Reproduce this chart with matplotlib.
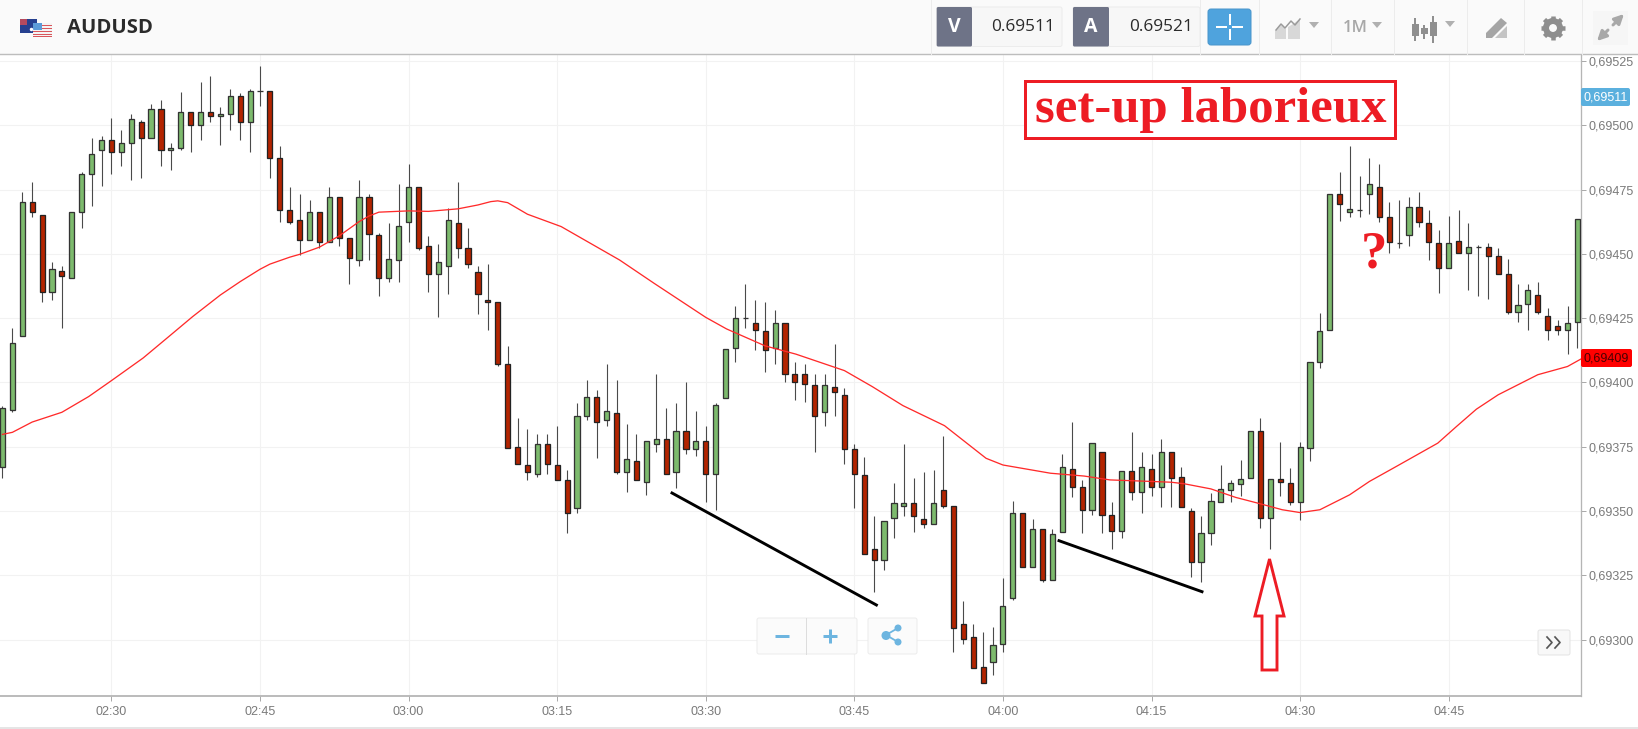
import numpy as np
import matplotlib
matplotlib.use('Agg')
import matplotlib.pyplot as plt
from matplotlib.patches import Rectangle, FancyBboxPatch, Circle, Polygon

# one minute candles, AUDUSD, 02:19 to 04:58, prices in 1e-5
opens = [69367.3, 69389.3, 69418, 69470.3, 69465, 69435.2, 69443.2, 69440.5, 69466.3, 69481.2,
         69490.4, 69494.3, 69489.4, 69493.2, 69501.3, 69495, 69506.2, 69490.3, 69491.2, 69505.2,
         69500.2, 69505.3, 69503.5, 69504.3, 69511.4, 69501.3, 69513.2, 69513.2, 69487.4, 69467,
         69463.2, 69455.4, 69466.3, 69454.5, 69472, 69456.2, 69447.5, 69472, 69457.2, 69440.5,
         69447.5, 69462.4, 69475.9, 69453.2, 69442.2, 69445.3, 69461.9, 69452.3, 69443.1, 69432.2,
         69431.3, 69407.3, 69375, 69367.9, 69364.3, 69376.2, 69367.9, 69362, 69351.2, 69387.1,
         69394.2, 69385.3, 69388, 69365.2, 69369.3, 69361.2, 69376.1, 69378, 69365.2, 69381,
         69374.2, 69377.1, 69364.4, 69394.1, 69413.4, 69425.2, 69423, 69419.9, 69413.4, 69423,
         69403.3, 69403.3, 69398.9, 69388.4, 69398.1, 69395, 69374, 69363.9, 69335.1, 69331.1,
         69347.3, 69352.1, 69353, 69346.9, 69345.1, 69358.2, 69352.1, 69306.2, 69300.9, 69289.2,
         69291.3, 69298.3, 69316.1, 69349.1, 69328.1, 69342.9, 69323.2, 69342, 69366.3, 69359.3,
         69350.5, 69373.1, 69348.3, 69342.1, 69365.4, 69357.5, 69366.3, 69359.2, 69373.1, 69363.2,
         69350.1, 69330.2, 69341.3, 69353.4, 69358.2, 69360.4, 69363, 69381.1, 69347.4, 69362.3,
         69361, 69353.4, 69374.4, 69408.1, 69420.5, 69473.3, 69466.3, 69467.2, 69473.3, 69476,
         69464.3, 69454.1, 69457.5, 69468.1, 69461.9, 69454.1, 69444.4, 69454.9, 69450.5, 69452.6,
         69452.5, 69449.2, 69442.2, 69427.3, 69430.4, 69433.9, 69426, 69422.1, 69420.5, 69423.5]
closes = [69390.2, 69415.2, 69470.3, 69466.3, 69435.2, 69444, 69441.4, 69466.3, 69481.2, 69489,
          69494.3, 69489.4, 69492.9, 69502.3, 69495, 69506.2, 69490.3, 69491.3, 69505.3, 69500.2,
          69505.3, 69503.4, 69504.5, 69511.4, 69501.3, 69513.2, 69513.2, 69487.4, 69467, 69462.3,
          69455.4, 69466.3, 69454.5, 69472, 69456.2, 69448.4, 69472, 69457.6, 69440.5, 69448,
          69461, 69475.9, 69452.2, 69442.2, 69447, 69463.2, 69452.3, 69446.2, 69434.4, 69431.4,
          69407.3, 69374.4, 69368.3, 69365.2, 69376.2, 69368.3, 69362, 69349.1, 69387.1, 69394.2,
          69384.5, 69389, 69365.2, 69370.1, 69362, 69377.1, 69378, 69364.4, 69381, 69374.2,
          69377.1, 69364.4, 69391.1, 69413, 69425.2, 69425.2, 69420.3, 69412.5, 69423, 69403.3,
          69400.2, 69399.3, 69387.1, 69398.9, 69396.3, 69374.2, 69364.4, 69333.3, 69331.1, 69346,
          69353, 69353, 69348.2, 69345.1, 69353, 69352.1, 69304.4, 69300.1, 69289.1, 69283,
          69297.9, 69313.2, 69349.1, 69328.1, 69342.9, 69323.2, 69341.2, 69367, 69359.2, 69350.5,
          69376.4, 69348.3, 69342.1, 69365.4, 69357.5, 69367, 69359.2, 69373.1, 69363, 69351.4,
          69330.2, 69341.4, 69354, 69358.4, 69361, 69362.3, 69381.1, 69347.4, 69362.3, 69361.4,
          69353.4, 69375, 69408.1, 69419.9, 69473.3, 69469.3, 69467.4, 69467.2, 69477.3, 69464.5,
          69454.5, 69454.1, 69468.1, 69462.4, 69454.5, 69444.4, 69454.1, 69450.5, 69452.5, 69452.6,
          69449.2, 69442.2, 69427.3, 69430, 69436.1, 69427.3, 69420.5, 69420.5, 69423, 69463.4]
highs = [69391, 69421, 69474, 69478, 69465, 69447, 69445.3, 69466.3, 69481.7, 69495,
         69495.8, 69503, 69498.2, 69504.3, 69502, 69508.3, 69510, 69492.9, 69513, 69505.2,
         69517, 69519.2, 69507, 69514, 69512.7, 69514, 69523, 69513.2, 69492, 69475.9,
         69473.2, 69471, 69466.3, 69475.9, 69472, 69456.2, 69478.7, 69473.2, 69458, 69461.9,
         69477.2, 69485, 69475.9, 69456.8, 69453.7, 69467.7, 69478, 69460, 69445.3, 69446,
         69431.3, 69414.2, 69386, 69381.8, 69380, 69380, 69383, 69366, 69391.9, 69400.9,
         69397.1, 69407.2, 69400.9, 69384, 69380, 69377.1, 69403.1, 69390.1, 69391.9, 69400.2,
         69388.8, 69383.1, 69391.9, 69413, 69429.8, 69438.3, 69432, 69431.1, 69428.2, 69423,
         69407.9, 69407.2, 69403.3, 69403.3, 69415, 69397.8, 69376.1, 69370.9, 69348.1, 69346,
         69360.8, 69376.1, 69363, 69365.2, 69366, 69379.2, 69352.1, 69314.9, 69306.1, 69303,
         69304.8, 69324, 69353.8, 69349.1, 69346.8, 69342.9, 69342.9, 69372.2, 69384.8, 69362.1,
         69376.4, 69373.1, 69353.7, 69365.4, 69380.9, 69373, 69372.2, 69377.9, 69373.1, 69367,
         69351.1, 69348.1, 69357, 69367.8, 69361.9, 69369.9, 69381.1, 69386.1, 69362.3, 69376.9,
         69366.9, 69376.9, 69408.1, 69426.9, 69473.3, 69482, 69492, 69480.3, 69487.2, 69485,
         69470.3, 69471, 69472, 69474.2, 69467.1, 69459.3, 69464.9, 69467.1, 69461.9, 69453.4,
         69454.1, 69452.2, 69447.9, 69438.3, 69438.3, 69439.1, 69428.9, 69424.2, 69429.9, 69463.4]
lows = [69363, 69388.5, 69418, 69464.5, 69431.4, 69432.2, 69421.2, 69440.5, 69460.2, 69468.5,
        69476.4, 69481.2, 69484.3, 69478.6, 69479.5, 69495, 69484.3, 69482.5, 69490.5, 69489.5,
        69494.3, 69501.4, 69492.5, 69498.2, 69494.3, 69489.5, 69507.4, 69479.5, 69462.4, 69461.5,
        69449.6, 69455.4, 69452.2, 69454.5, 69453.2, 69438.4, 69445.4, 69447.5, 69433.6, 69439.2,
        69439.2, 69454.5, 69451.5, 69435.3, 69425.3, 69434.4, 69448.5, 69444.4, 69426.5, 69420.4,
        69406.5, 69374.4, 69368.3, 69362.1, 69363.1, 69364.4, 69362, 69341.3, 69349.1, 69385.4,
        69370.5, 69383.2, 69364.4, 69357.5, 69362, 69356.1, 69373.1, 69364.4, 69359.1, 69372.3,
        69371.4, 69353.5, 69350.4, 69394.1, 69408.1, 69421, 69412.5, 69404.2, 69407.2, 69400.2,
        69393.2, 69392.4, 69373.1, 69383.2, 69387.1, 69368.3, 69351.2, 69333.3, 69318.5, 69327.2,
        69339.4, 69348.2, 69342, 69343.4, 69345.1, 69351.3, 69295.3, 69298.3, 69289.1, 69283,
        69286.1, 69295.3, 69315.4, 69328.1, 69328.1, 69322.4, 69323.2, 69342, 69355.4, 69341.4,
        69348.3, 69341.4, 69335.2, 69339.6, 69354.4, 69349.2, 69356, 69351.4, 69351.4, 69351.4,
        69324.2, 69322.5, 69336.6, 69353.4, 69353.4, 69356, 69363, 69343.5, 69335.2, 69356,
        69352.2, 69346.6, 69369.3, 69405.5, 69420.5, 69462.6, 69464.5, 69464.5, 69465.4, 69462.4,
        69450.5, 69452.2, 69453.2, 69460.4, 69447.7, 69434.6, 69444.4, 69450.5, 69436.1, 69433.5,
        69432.4, 69442.2, 69426.5, 69423.6, 69420.5, 69426.5, 69416.6, 69418.3, 69411.2, 69413.5]

# moving average read at some minutes (minutes since 02:19)
ma_minutes = [0, 1, 3, 6, 8.7, 11, 14.2, 17, 19.2, 22, 24, 26, 27, 29, 30, 32, 34, 36, 37, 38, 41, 43, 46, 48,
              49.3, 50, 51, 53, 56.4, 62.3, 65.8, 71, 73.1, 77, 80.1, 85, 87.8, 90.9, 95.1, 99.3, 101, 105.8,
              109.2, 111.8, 116, 118, 119.3, 122, 124.5, 126.8, 129.2, 131, 133, 136, 138, 140.7, 144.9,
              146.8, 148.8, 151, 155, 158, 159.4]
ma_values = [69379.8, 69380.6, 69384.6, 69388.4, 69394.5, 69400.7, 69409.5, 69418.5, 69425.6, 69434, 69439.2,
             69444, 69446, 69448.7, 69449.8, 69452.6, 69457, 69462.5, 69464.7, 69466.2, 69466.7, 69466.5,
             69467.5, 69469, 69470.3, 69470.6, 69469.9, 69465.4, 69460.6, 69447.6, 69438.5, 69425.3, 69420.8,
             69414.2, 69411, 69404.6, 69398.4, 69391, 69383.2, 69370.5, 69367.9, 69364.7, 69363.6, 69362.1,
             69361.5, 69361.2, 69360.6, 69358.6, 69355.3, 69353, 69350.5, 69349.4, 69350.5, 69356.3, 69361.5,
             69367.3, 69376.4, 69382.9, 69389.6, 69395.2, 69403, 69406.2, 69409.2]

time_minutes = [11, 26, 41, 56, 71, 86, 101, 116, 131, 146]
time_labels = ['02:30', '02:45', '03:00', '03:15', '03:30', '03:45', '04:00', '04:15', '04:30', '04:45']
price_ticks = [69300, 69325, 69350, 69375, 69400, 69425, 69450, 69475, 69500, 69525]
symbol = 'AUDUSD'
bid_price = '0.69511'
ask_price = '0.69521'
last_price = 69511
ma_last = 69409

W, H = 1638, 729
GREEN = '#7dba6d'
RED = '#b32400'
UI_BLUE = '#6db5e0'
MARK_RED = '#ed1c24'
px = 0.72  # one pixel in points at dpi 100

opens, closes = np.array(opens), np.array(closes)
highs, lows = np.array(highs), np.array(lows)
t = np.arange(len(opens))

fig = plt.figure(figsize=(W/100, H/100), dpi=100, facecolor='white')
ax = fig.add_axes([0, 1-695.7/H, 1581/W, (695.7-54.5)/H])
ax.set_xlim(-0.25, 159.36)
ax.set_ylim(69278.2, 69527.5)

ax.set_axisbelow(True)
ax.grid(True, color='#f2f2f2', lw=1.1*px)
for s in ['top', 'left']:
    ax.spines[s].set_visible(False)
ax.spines['right'].set_color('#b5b5b5')
ax.spines['bottom'].set_color('#b5b5b5')
ax.spines['right'].set_linewidth(1.3*px)
ax.spines['bottom'].set_linewidth(1.8*px)

ax.set_xticks(time_minutes)
ax.set_xticklabels(time_labels)
ax.yaxis.tick_right()
ax.set_yticks(price_ticks)
ax.set_yticklabels(['0,%d' % p for p in price_ticks])
ax.tick_params(axis='x', length=5*px, width=1*px, color='#aaaaaa', labelcolor='#7a7a7a', labelsize=9, pad=3.5)
ax.tick_params(axis='y', length=5*px, width=1*px, color='#aaaaaa', labelcolor='#7a7a7a', labelsize=9, pad=1.5)
for lab in ax.get_xticklabels() + ax.get_yticklabels():
    lab.set_family('Liberation Sans')

# candles
ax.vlines(t, lows, highs, color='#4a4a4a', lw=1.1*px, zorder=2)
up = closes >= opens
ax.bar(t[up], (closes-opens)[up], bottom=opens[up], width=0.52, color=GREEN,
       edgecolor='#333333', linewidth=1.3*px, zorder=3)
ax.bar(t[~up], (opens-closes)[~up], bottom=closes[~up], width=0.52, color=RED,
       edgecolor='#222222', linewidth=1.3*px, zorder=3)
ax.plot(ma_minutes, ma_values, color='#ff2a2a', lw=1.3*px, zorder=4)

# everything else is placed in pixels
ov = fig.add_axes([0, 0, 1, 1], zorder=5)
ov.set_xlim(0, W)
ov.set_ylim(H, 0)
ov.axis('off')


def box(x0, y0, x1, y1, **kw):
    ov.add_patch(Rectangle((x0, y0), x1-x0, y1-y0, **kw))


def rbox(x0, y0, x1, y1, r=2, **kw):
    ov.add_patch(FancyBboxPatch((x0+r, y0+r), x1-x0-2*r, y1-y0-2*r, boxstyle='round,pad=%g,rounding_size=%g' % (r, r), **kw))


def tri(x, y):
    ov.add_patch(Polygon([(x-5, y-3), (x+5, y-3), (x, y+3)], color='#b0b0b0', lw=0))


# toolbar
box(0, 0, W, 53.5, color='#fafafa', lw=0)
ov.plot([0, W], [54, 54], color='#bdbdbd', lw=1.4*px)
for xs in [930.6, 1200, 1258.6, 1331, 1394, 1467, 1524, 1582]:
    ov.plot([xs, xs], [0, 54], color='#ececec', lw=1*px)
ov.text(67, 27.5, symbol, fontsize=14.6, fontweight='bold', family='Open Sans', color='#2b2b2b', va='center')

# flags
box(20, 19, 37, 33, color='#26408f', lw=0)
box(20, 19, 27, 25, color='#b44a5e', lw=0)
ov.plot([31], [29], 'o', ms=1.5, color='white')
box(33, 23, 52, 37, color='#f4f4f4', lw=0)
for yy in [25, 28, 31, 34, 36]:
    box(33, yy, 52, yy+1.2, color='#d9565c', lw=0)
box(33, 23, 42, 30, color='#5b9bd8', lw=0)

# bid / ask boxes
for x0, x1, x2, letter, val in [(936.7, 972, 1062, 'V', bid_price), (1073, 1109, 1200, 'A', ask_price)]:
    rbox(x0, 7, x2, 46.5, r=2, fc='#f7f7f7', ec='#ececec', lw=1*px)
    rbox(x0, 7, x1, 46.5, r=1.5, fc='#6e7387', ec='none', lw=0)
    ov.text((x0+x1)/2, 27, letter, color='white', fontsize=14, fontweight='bold', family='Open Sans', ha='center', va='center')
    ov.text(x2-7, 27, val, color='#2b2b2b', fontsize=12.4, family='Open Sans', ha='right', va='center')

# crosshair button
rbox(1208, 9, 1251, 45, r=3, fc='#4fa3dd', ec='#4a96cc', lw=1*px)
for a, b in [((1217, 1226), (27, 27)), ((1233, 1242), (27, 27)), ((1229.5, 1229.5), (15, 24)), ((1229.5, 1229.5), (30, 39))]:
    ov.plot(a, b, color='white', lw=2*px)

# chart type icon
ov.add_patch(Polygon([(1275, 31), (1281, 25), (1286, 29), (1286, 39), (1275, 39)], color='#d8d8d8', lw=0))
ov.add_patch(Polygon([(1288, 27), (1293, 24), (1300, 19), (1300, 39), (1288, 39)], color='#d8d8d8', lw=0))
ov.plot([1276, 1281, 1285, 1291, 1295, 1300], [30, 24, 28, 21, 25, 19], color='#9a9a9a', lw=1.5*px)
tri(1314, 25)
ov.text(1355, 28, '1M', color='#a8a8a8', fontsize=12, family='Open Sans', fontweight='semibold', ha='center', va='center')
tri(1377, 25)

# candle icon
for xc, y0, y1, yb0, yb1 in [(1415, 19, 40, 24, 36), (1424, 26, 38, 28, 34), (1433, 17, 42, 22, 36)]:
    ov.plot([xc, xc], [y0, y1], color='#8f8f8f', lw=2*px)
    box(xc-3.5, yb0, xc+3.5, yb1, fc='#8f8f8f', lw=0)
tri(1450, 24)

# drawing tool icon
ov.add_patch(Polygon([(1486, 33), (1501, 18), (1507, 23), (1492, 38), (1486, 38)], color='#a5a5a5', lw=0))
ov.add_patch(Polygon([(1495, 38), (1507, 26), (1507, 38)], color='#c4c4c4', lw=0))

# gear
ang = np.arange(8)*np.pi/4
for a in ang:
    ov.plot([1553+7*np.cos(a), 1553+12*np.cos(a)], [28+7*np.sin(a), 28+12*np.sin(a)], color='#8e8e8e', lw=4.5*px, solid_capstyle='butt')
ov.add_patch(Circle((1553, 28), 7, fc='none', ec='#8e8e8e', lw=6*px))

# expand
box(1593, 11, 1628, 45, color='#f6f6f6', lw=0)
ov.annotate('', xy=(1624, 14), xytext=(1613, 25), arrowprops=dict(arrowstyle='-|>', color='#a8a8a8', lw=3*px, mutation_scale=14, shrinkA=0, shrinkB=0))
ov.annotate('', xy=(1597, 41), xytext=(1608, 30), arrowprops=dict(arrowstyle='-|>', color='#a8a8a8', lw=3*px, mutation_scale=14, shrinkA=0, shrinkB=0))

# price flags on the axis
rbox(1581, 88, 1630, 106, r=2, fc='#5bb0de', ec='none', lw=0)
ov.text(1605.5, 97, '0,%d' % last_price, color='white', fontsize=9, family='Liberation Sans', ha='center', va='center')
rbox(1581, 349, 1632, 367, r=2, fc='#ff0000', ec='none', lw=0)
ov.text(1606.5, 358, '0,%d' % ma_last, color='#4a0000', fontsize=9, family='Liberation Sans', ha='center', va='center')

# zoom and share buttons
rbox(757, 618, 857, 654, r=2, fc='#fbfbfb', ec='#ececec', lw=1*px)
ov.plot([806, 806], [618, 654], color='#dddddd', lw=1*px)
ov.plot([775, 789], [636, 636], color=UI_BLUE, lw=3*px, solid_capstyle='butt')
ov.plot([823, 837], [636, 636], color=UI_BLUE, lw=3*px, solid_capstyle='butt')
ov.plot([830, 830], [629, 643], color=UI_BLUE, lw=3*px, solid_capstyle='butt')
rbox(868, 618, 917, 654, r=2, fc='#fbfbfb', ec='#ececec', lw=1*px)
ov.plot([898, 886, 898], [628, 635, 642], color=UI_BLUE, lw=1.8*px)
for cx, cy, r in [(886, 635.5, 4.5), (898, 628, 3.5), (898, 642, 3.5)]:
    ov.add_patch(Circle((cx, cy), r, color=UI_BLUE, lw=0))

# scroll button
rbox(1538, 630, 1570, 655, r=2, fc='#f8f8f8', ec='#e4e4e4', lw=1*px)
ov.plot([1547, 1552, 1547], [637, 642.5, 648], color='#555555', lw=1.7*px)
ov.plot([1555, 1560, 1555], [637, 642.5, 648], color='#555555', lw=1.7*px)

# bottom border
ov.plot([0, W], [727.5, 727.5], color='#dddddd', lw=1.5*px)

# hand drawn annotations
box(1024.7, 81, 1395, 137.7, fc='white', ec=MARK_RED, lw=3*px)
ov.text(1210.5, 110, 'set-up laborieux', color=MARK_RED, fontsize=36.5, fontweight='bold', family='Liberation Serif', ha='center', va='center')
ov.text(1374, 254, '?', color=MARK_RED, fontsize=38, fontweight='bold', family='Liberation Serif', ha='center', va='center')
ov.plot([672, 876.4], [493, 605], color='black', lw=2.9*px)
ov.plot([1059, 1202], [540.7, 591.7], color='black', lw=2.9*px)
ov.add_patch(Polygon([(1269.5, 559), (1284, 616), (1277, 616), (1277, 670), (1262, 670), (1262, 616), (1255, 616)],
                     fc='none', ec=MARK_RED, lw=2.9*px, joinstyle='miter'))

fig.savefig('out.png', dpi=100, facecolor='white')
